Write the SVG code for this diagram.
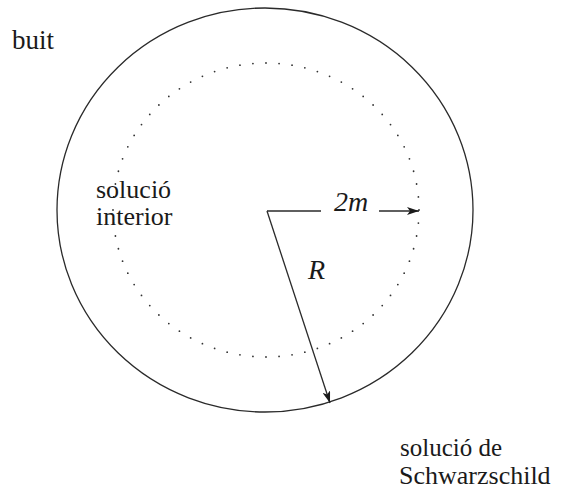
<svg xmlns="http://www.w3.org/2000/svg" width="568" height="493" viewBox="0 0 568 493">
<defs>
<marker id="ah" viewBox="0 0 12 8" refX="12" refY="4" markerWidth="12" markerHeight="8" markerUnits="userSpaceOnUse" orient="auto">
<path d="M0,0 L12,4 L0,8 L3,4 Z" fill="#1a1a1a"/>
</marker>
</defs>
<rect width="568" height="493" fill="#fff"/>
<g id="outer">
<ellipse cx="265" cy="210" rx="208" ry="202" fill="none" stroke="#2a2a2a" stroke-width="1.3"/>
</g>
<g id="inner">
<ellipse cx="266" cy="210" rx="153" ry="147" fill="none" stroke="#333" stroke-width="1.8" stroke-linecap="round" pathLength="72" stroke-dasharray="0 1"/>
</g>
<g id="connectors" stroke="#2a2a2a" stroke-width="1.3" fill="none">
<line x1="267" y1="211" x2="321" y2="211"/>
<line x1="379" y1="211" x2="419" y2="211" marker-end="url(#ah)"/>
<line x1="267" y1="211" x2="330" y2="403" marker-end="url(#ah)"/>
</g>
<g id="labels" fill="#1a1a1a">
<text font-family="'Liberation Serif', 'Times New Roman', serif" font-size="27" x="12" y="49">buit</text>
<text font-family="'Liberation Serif', 'Times New Roman', serif" font-size="26" x="96" y="198">solució</text>
<text font-family="'Liberation Serif', 'Times New Roman', serif" font-size="26" x="96" y="225">interior</text>
<text font-family="'Liberation Serif', 'Times New Roman', serif" font-size="28" font-style="italic" x="334" y="211">2m</text>
<text font-family="'Liberation Serif', 'Times New Roman', serif" font-size="28" font-style="italic" x="308" y="279">R</text>
<text font-family="'Liberation Serif', 'Times New Roman', serif" font-size="25" x="400" y="456">solució de</text>
<text font-family="'Liberation Serif', 'Times New Roman', serif" font-size="26" x="399" y="484">Schwarzschild</text>
</g>
</svg>
